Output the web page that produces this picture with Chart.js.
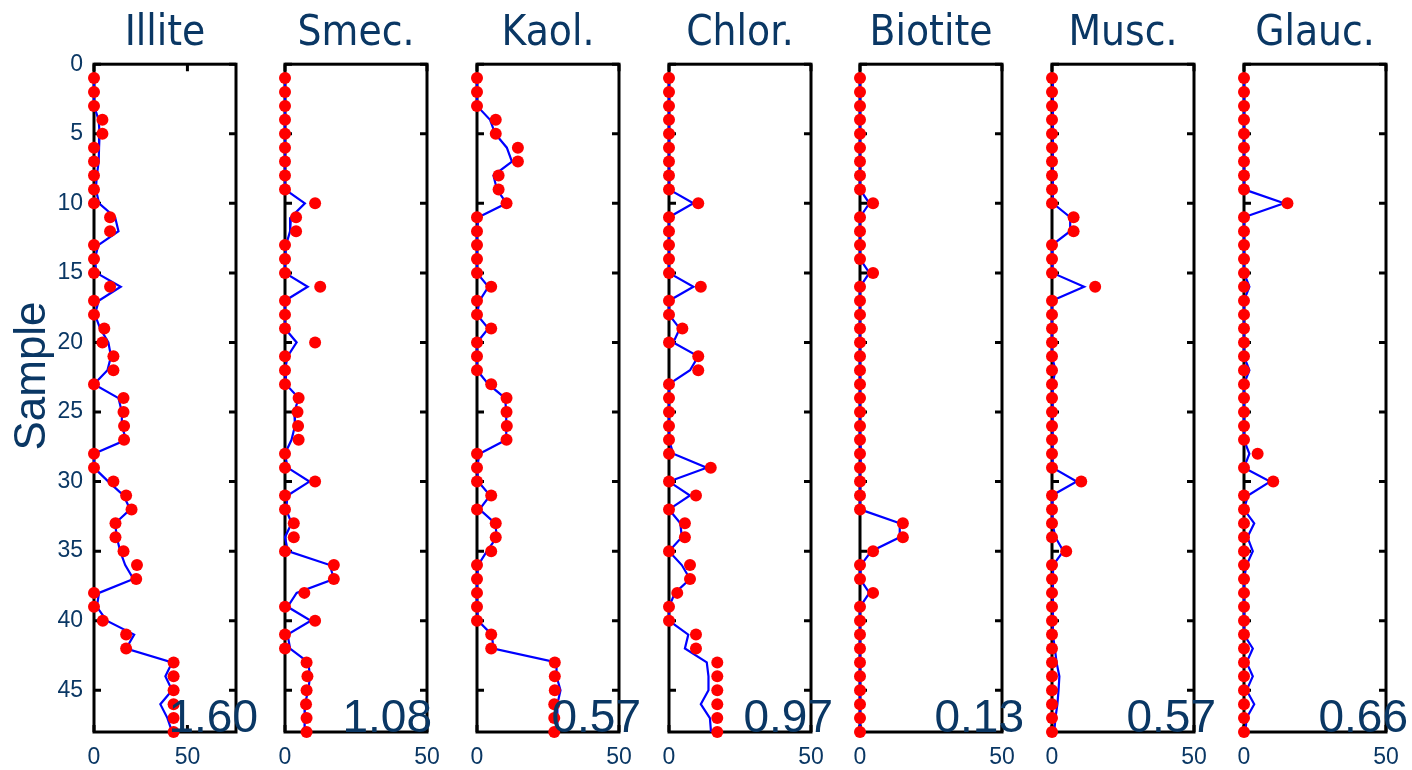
<!DOCTYPE html>
<html>
<head>
<meta charset="utf-8">
<script src="https://cdn.jsdelivr.net/npm/chart.js@4.4.0/dist/chart.umd.min.js"></script>
<style>
  html, body { margin: 0; padding: 0; background: #fff; }
  #wrap { position: relative; width: 1412px; height: 770px; overflow: hidden; }
  #wrap canvas { position: absolute; top: 0; }
</style>
</head>
<body>
<div id="wrap"></div>
<script>
// サンプル番号（縦軸）
const samples = [1, 2, 3, 4, 5, 6, 7, 8, 9, 10, 11, 12, 13, 14, 15, 16, 17, 18, 19, 20, 21, 22, 23, 24,
  25, 26, 27, 28, 29, 30, 31, 32, 33, 34, 35, 36, 37, 38, 39, 40, 41, 42, 43, 44, 45, 46, 47, 48];

// 各鉱物：測定値（赤点）と計算値（青線）
const illiteObs = [0, 0, 0, 4.5, 4.5, 0, 0, 0, 0, 0, 8.6, 8.6, 0, 0, 0, 8.6, 0, 0, 5.5, 4.5, 10.4, 10.4, 0, 15.8,
  15.8, 16.1, 16.1, 0, 0, 10.4, 17.2, 20.1, 11.5, 11.5, 15.8, 23, 22.6, 0, 0, 4.7, 17.2, 17.2, 42.6, 42.6, 42.6, 42.6, 42.6, 42.6];
const illiteCalc = [0, 0, 0, 2.5, 3, 2.7, 2.5, 1.5, 1, 2.7, 11.3, 13.1, 2.3, 0.5, 1.3, 14.3, 2.5, 0.5, 3.3, 7.7, 9.1, 7.2, 0, 13.1,
  14.9, 14.9, 17.2, 0, 0, 7.7, 15.8, 19.4, 11.3, 12.2, 14, 16.7, 21.1, 2.7, 1.5, 6.8, 21.5, 17.2, 41.8, 38.2, 41.8, 35.5, 39.3, 41.8];

const smecObs = [0, 0, 0, 0, 0, 0, 0, 0, 0, 10.6, 3.9, 3.9, 0, 0, 0, 12.4, 0, 0, 0, 10.6, 0, 0, 0, 4.8,
  4.4, 4.6, 4.8, 0, 0, 10.6, 0, 0, 3.1, 3.1, 0, 17.2, 17.2, 6.8, 0, 10.6, 0, 0, 7.6, 7.9, 7.6, 7.4, 7.6, 7.6];
const smecCalc = [0, 0, 0, 0, 0, 0, 0, 0, 0, 7.0, 2.1, 1.8, 0.4, 0, 0, 8.0, 0, 0, 0, 4.1, 0.9, 0, 0.3, 4.8,
  3.3, 3.5, 2.3, 0, 0.9, 8.6, 0.9, 0.4, 2.3, 0, 1.0, 15.8, 17.2, 4.1, 0.9, 9.1, 0.9, 1.8, 8.2, 8.8, 8.2, 7.0, 6.8, 7.0];

const kaolObs = [0, 0, 0, 6.6, 6.6, 14.4, 14.4, 7.6, 7.6, 10.4, 0, 0, 0, 0, 0, 5.0, 0, 0, 5.0, 0, 0, 0, 5.0, 10.4,
  10.4, 10.5, 10.4, 0, 0, 0, 5.0, 0, 6.6, 6.6, 5.0, 0, 0, 0, 0, 0, 5.0, 5.0, 27.4, 27.4, 27.4, 27.2, 27.2, 27.2];
const kaolCalc = [0, 0, 0, 4.6, 6.4, 10.5, 12.3, 5.8, 7.0, 10.4, 0.5, 0, 0, 0, 0, 4.0, 0.9, 0, 4.0, 0, 0, 0, 4.0, 9.9,
  10.3, 10.3, 10.3, 0.9, 0, 0.4, 4.6, 0.9, 6.4, 7.0, 3.5, 0.4, 0, 0, 0, 0.4, 5.2, 5.8, 28, 28, 29.4, 28.3, 28.3, 28.3];

const chlorObs = [0, 0, 0, 0, 0, 0, 0, 0, 0, 10.3, 0, 0, 0, 0, 0, 11.2, 0, 0, 4.7, 0, 10.3, 10.3, 0, 0,
  0, 0, 0, 0, 14.7, 0, 9.5, 0, 5.6, 5.6, 0, 7.4, 7.4, 2.9, 0, 0, 9.5, 9.5, 17, 17, 17, 17, 17, 17];
const chlorCalc = [0, 0, 0, 0, 0, 0, 0, 0, 0, 8.6, 0, 0, 0, 0, 0, 8.6, 0, 0, 3.8, 1.5, 10.3, 7.4, 0, 0,
  0, 0, 0, 1.5, 13.3, 0, 7.4, 0, 4.0, 4.5, 0, 4.5, 7.4, 2.1, 0, 0, 6.8, 5.6, 13.3, 13.9, 13.9, 11.2, 14.4, 14.8];

const biotObs = [0, 0, 0, 0, 0, 0, 0, 0, 0, 4.6, 0, 0, 0, 0, 4.6, 0, 0, 0, 0, 0, 0, 0, 0, 0,
  0, 0, 0, 0, 0, 0, 0, 0, 15.1, 15.1, 4.6, 0, 0, 4.6, 0, 0, 0, 0, 0, 0, 0, 0, 0, 0];
const biotCalc = [0, 0, 0, 0, 0, 0, 0, 0, 0, 3.3, 0, 0, 0, 0, 3.3, 0, 0, 0, 0, 0, 0, 0, 0, 0,
  0, 0, 0, 0.4, 0, 0, 0, 0, 14.0, 14.0, 4.0, 0.3, 0, 3.3, 0, 0, 0, 0, 0, 0, 0, 0, 0, 0];

const muscObs = [0, 0, 0, 0, 0, 0, 0, 0, 0, 0, 7.6, 7.6, 0, 0, 0, 15.2, 0, 0, 0, 0, 0, 0, 0, 0,
  0, 0, 0, 0, 0, 10.3, 0, 0, 0, 0, 5.0, 0, 0, 0, 0, 0, 0, 0, 0, 0, 0, 0, 0, 0];
const muscCalc = [0.3, 0.3, 0.3, 0.3, 0.3, 0.3, 0.3, 0.3, 0.3, 0.3, 6.4, 6.4, 0, 0, 0.3, 11.3, 0, 0, 0, 0, 0, 1.2, 0.2, 0.2,
  0.2, 0.2, 0.2, 0.2, 0.2, 8.7, 0, 0, 0.3, 1.2, 4.0, 0.4, 0.3, 0.3, 0.3, 0.3, 0.3, 1.0, 1.6, 2.6, 2.3, 1.9, 1.2, 0.8];

const glaucObs = [0, 0, 0, 0, 0, 0, 0, 0, 0, 15.3, 0, 0, 0, 0, 0, 0, 0, 0, 0, 0, 0, 0, 0, 0,
  0, 0, 0, 4.8, 0, 10.3, 0, 0, 0, 0, 0, 0, 0, 0, 0, 0, 0, 0, 0, 0, 0, 0, 0, 0];
const glaucCalc = [0, 0, 0, 0, 0, 0, 0, 0, 0, 14.1, 0, 0, 0, 0, 0, 1.9, 0, 0, 0, 0, 0, 1.9, 0, 0,
  0, 0, 0, 1.9, 0, 9.2, 1.4, 0, 3.6, 1.2, 3.1, 0.9, 0, 0, 0, 0, 0, 3.1, 0.9, 3.1, 0.9, 3.6, 0.9, 0.5];

// パネル名・右下の数値・横軸の最大値
const panelNames = ["Illite", "Smec.", "Kaol.", "Chlor.", "Biotite", "Musc.", "Glauc."];
const panelScores = ["1.60", "1.08", "0.57", "0.97", "0.13", "0.57", "0.66"];
const panelXMax = [76, 50, 50, 50, 50, 50, 50];
const panelObs = [illiteObs, smecObs, kaolObs, chlorObs, biotObs, muscObs, glaucObs];
const panelCalc = [illiteCalc, smecCalc, kaolCalc, chlorCalc, biotCalc, muscCalc, glaucCalc];

// 目盛り
const xTicks = [0, 50];
const yTicks = [0, 5, 10, 15, 20, 25, 30, 35, 40, 45];
const yLabel = "Sample";

// 配置
const panelLeft = [94, 285, 477, 669, 860, 1052, 1244];
const scoreOffset = [22, 5, 22, 22, 22, 22, 22];
const navy = "#0a3764";
const plainFont = "'Liberation Sans', Arial, Helvetica, sans-serif";
const narrowFont = "'DejaVu Sans Condensed', 'Liberation Sans Narrow', sans-serif";

// 枠と内向きの目盛り線
const frameAxes = {
  id: "frameAxes",
  beforeDatasetsDraw(chart) {
    const { ctx, chartArea: a, scales } = chart;
    ctx.save();
    ctx.strokeStyle = "#000";
    ctx.lineWidth = 3;
    ctx.strokeRect(a.left, a.top, a.right - a.left, a.bottom - a.top);
    ctx.beginPath();
    scales.y.ticks.forEach((t) => {
      const y = scales.y.getPixelForValue(t.value);
      ctx.moveTo(a.left, y);
      ctx.lineTo(a.left + 7, y);
      ctx.moveTo(a.right, y);
      ctx.lineTo(a.right - 7, y);
    });
    scales.x.ticks.forEach((t) => {
      const x = scales.x.getPixelForValue(t.value);
      ctx.moveTo(x, a.top);
      ctx.lineTo(x, a.top + 7);
      ctx.moveTo(x, a.bottom);
      ctx.lineTo(x, a.bottom - 7);
    });
    ctx.stroke();
    ctx.restore();
  },
};

// 右下の数値と縦軸ラベル
const panelText = {
  id: "panelText",
  afterDatasetsDraw(chart, args, opts) {
    const { ctx, chartArea: a } = chart;
    ctx.save();
    ctx.fillStyle = navy;
    ctx.font = "46px " + plainFont;
    ctx.textAlign = "right";
    ctx.textBaseline = "alphabetic";
    ctx.fillText(opts.score, a.right + opts.offset, a.bottom);
    if (opts.yTitle) {
      ctx.translate(33, 376);
      ctx.rotate(-Math.PI / 2);
      ctx.font = "44px " + plainFont;
      ctx.textAlign = "center";
      ctx.textBaseline = "middle";
      ctx.fillText(opts.yTitle, 0, 0);
    }
    ctx.restore();
  },
};

const wrap = document.getElementById("wrap");

panelNames.forEach((name, i) => {
  const canvas = document.createElement("canvas");
  canvas.width = 266;
  canvas.height = 770;
  canvas.style.left = panelLeft[i] - 94 + "px";
  wrap.appendChild(canvas);

  const obs = panelObs[i];
  const calc = panelCalc[i];

  new Chart(canvas.getContext("2d"), {
    type: "scatter",
    data: {
      datasets: [
        {
          label: name + " measured",
          data: samples.map((s, k) => ({ x: obs[k], y: s })),
          pointRadius: 6,
          pointBackgroundColor: "#ff0000",
          pointBorderWidth: 0,
          showLine: false,
          clip: false,
          order: 0,
        },
        {
          label: name + " model",
          data: samples.map((s, k) => ({ x: calc[k], y: s })),
          showLine: true,
          borderColor: "#0000ff",
          borderWidth: 2.2,
          pointRadius: 0,
          tension: 0,
          clip: false,
          order: 1,
        },
      ],
    },
    options: {
      responsive: false,
      animation: false,
      devicePixelRatio: 1,
      layout: { padding: { left: 0, right: 30, top: 0, bottom: 0 } },
      scales: {
        x: {
          type: "linear",
          position: "bottom",
          min: 0,
          max: panelXMax[i],
          grid: { display: false, drawTicks: false },
          border: { display: false },
          ticks: {
            color: navy,
            font: { family: plainFont, size: 23 },
            padding: 12,
            maxRotation: 0,
            autoSkip: false,
          },
          afterBuildTicks: (axis) => {
            axis.ticks = xTicks.map((v) => ({ value: v }));
          },
          afterFit: (axis) => {
            axis.height = 38;
          },
        },
        y: {
          type: "linear",
          position: "left",
          reverse: true,
          min: 0,
          max: 48,
          grid: { display: false, drawTicks: false },
          border: { display: false },
          ticks: {
            display: i === 0,
            color: navy,
            font: { family: plainFont, size: 23 },
            padding: 11,
            autoSkip: false,
          },
          afterBuildTicks: (axis) => {
            axis.ticks = yTicks.map((v) => ({ value: v }));
          },
          afterFit: (axis) => {
            axis.width = 94;
          },
        },
      },
      plugins: {
        legend: { display: false },
        tooltip: { enabled: false },
        title: {
          display: true,
          text: name,
          fullSize: false,
          color: navy,
          font: { family: narrowFont, size: 42, weight: "normal", lineHeight: 1.2 },
          padding: { top: 9, bottom: 4.8 },
        },
        panelText: {
          score: panelScores[i],
          offset: scoreOffset[i],
          yTitle: i === 0 ? yLabel : "",
        },
      },
    },
    plugins: [frameAxes, panelText],
  });
});
</script>
</body>
</html>
